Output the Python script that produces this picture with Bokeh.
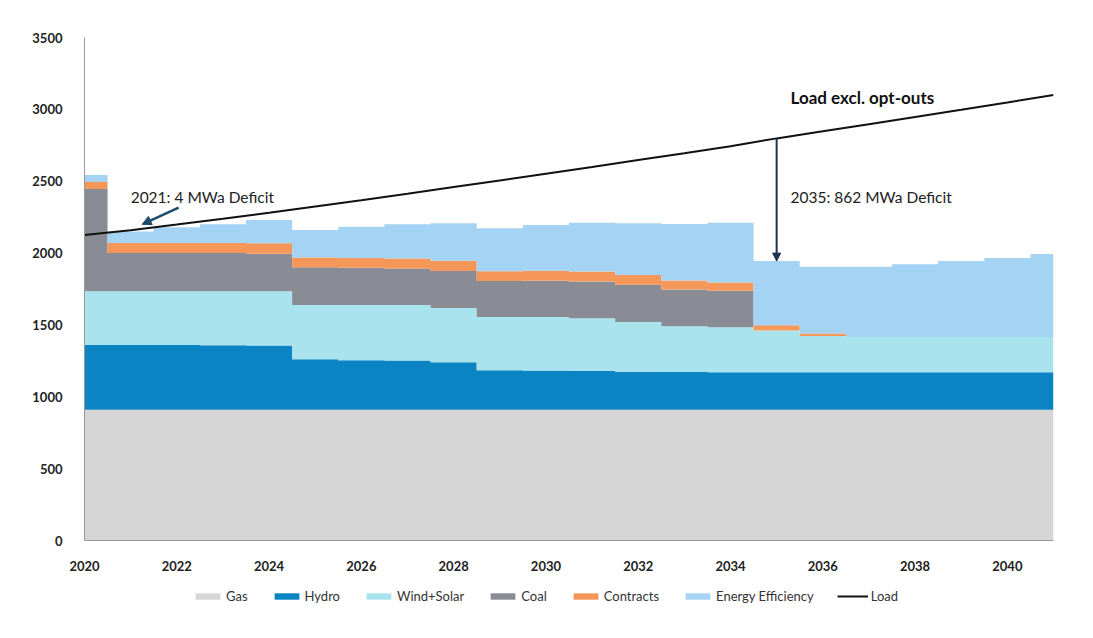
import numpy as np
from bokeh.plotting import figure
from bokeh.layouts import column
from bokeh.models import Range1d, Legend, LegendItem, Arrow, NormalHead, Label, FixedTicker, ColumnDataSource
from bokeh.embed import file_html
from bokeh.resources import INLINE

years = list(range(2020, 2042))
gas = [910] * 22
hydro = [450, 450, 450, 448, 446, 351, 345, 342, 330, 275, 273, 270, 265, 262, 260, 260, 260, 260, 260, 260, 260, 260]
wind_solar = [375, 375, 375, 377, 379, 377, 383, 386, 377, 370, 372, 367, 345, 319, 313, 292, 253, 246, 246, 246, 246, 246]
coal = [711, 265, 265, 265, 261, 264, 260, 254, 259, 250, 252, 255, 259, 256, 254, 0, 0, 0, 0, 0, 0, 0]
contracts = [49, 70, 70, 70, 72, 68, 67, 70, 70, 69, 70, 70, 68, 63, 59, 36, 18, 0, 0, 0, 0, 0]
energy_eff = [48, 80, 110, 130, 162, 190, 218, 238, 261, 298, 318, 339, 360, 392, 415, 446, 464, 489, 507, 528, 549, 577]
load = [2125, 2158, 2198, 2239, 2281, 2324, 2368, 2413, 2459, 2505, 2552, 2599, 2647, 2695, 2744, 2798,
        2847, 2897, 2947, 2997, 3048, 3100]

x_ticks = list(range(2020, 2041, 2))
y_ticks = list(range(0, 3501, 500))

names = ["Gas", "Hydro", "Wind+Solar", "Coal", "Contracts", "Energy Efficiency"]
series = [gas, hydro, wind_solar, coal, contracts, energy_eff]
colors = ["#d6d6d6", "#0b84c4", "#a9e3ee", "#898c94", "#f6975a", "#a4d3f3"]
load_color = "#111111"

FONT = "Lato"

p = figure(width=1093, height=575, x_range=Range1d(2020, 2041), y_range=Range1d(0, 3500),
           output_backend="svg", toolbar_location=None,
           min_border_left=84, min_border_right=40, min_border_top=37, min_border_bottom=35)
p.outline_line_color = None
p.grid.grid_line_color = None
p.background_fill_color = "white"
p.border_fill_color = "white"

cum = np.zeros(len(years))
for name, vals, col in zip(names, series, colors):
    lower = cum.copy()
    cum = cum + np.array(vals, dtype=float)
    src = ColumnDataSource(dict(x=years, y1=lower, y2=cum.copy()))
    p.varea_step(x="x", y1="y1", y2="y2", step_mode="center", source=src, fill_color=col)
tops = cum

p.line(years, load, line_color=load_color, line_width=2)

# axes
p.xaxis.ticker = FixedTicker(ticks=x_ticks)
p.yaxis.ticker = FixedTicker(ticks=y_ticks)
for ax in (p.xaxis, p.yaxis):
    ax.major_tick_line_color = None
    ax.minor_tick_line_color = None
    ax.major_label_text_font = FONT
    ax.major_label_text_font_style = "bold"
    ax.major_label_text_font_size = "13px"
    ax.major_label_text_color = "#222222"
    ax.axis_line_color = "#9a9a9a"
p.yaxis.major_label_standoff = 16
p.xaxis.major_label_standoff = 14

# annotations
p.add_layout(Label(x=2035.3, y=3083, text="Load excl. opt-outs", text_font=FONT, text_font_style="bold",
                   text_font_size="17px", text_baseline="middle", text_color="#111111"))
p.add_layout(Label(x=2035.3, y=2387, text="2035: 862 MWa Deficit", text_font=FONT,
                   text_font_size="15.5px", text_baseline="middle", text_color="#222222"))
p.add_layout(Label(x=2021.0, y=2387, text="2021: 4 MWa Deficit", text_font=FONT,
                   text_font_size="15.5px", text_baseline="middle", text_color="#222222"))
i35 = years.index(2035)
p.add_layout(Arrow(end=NormalHead(size=8, fill_color="#1d3552", line_color="#1d3552"),
                   x_start=years[i35], y_start=load[i35], x_end=years[i35], y_end=tops[i35],
                   line_color="#1d3552", line_width=2))
p.add_layout(Arrow(end=NormalHead(size=9, fill_color="#1b4a6b", line_color="#1b4a6b"),
                   x_start=2022.04, y_start=2317, x_end=2021.25, y_end=2200,
                   line_color="#1b4a6b", line_width=2.5))

# legend in its own strip below the chart (swatch glyphs lie outside the strip's visible range)
lg = figure(width=1093, height=63, output_backend="svg", toolbar_location=None,
            x_axis_type=None, y_axis_type=None, x_range=Range1d(0, 1), y_range=Range1d(0, 1),
            min_border=0)
lg.outline_line_color = None
lg.grid.grid_line_color = None
items = []
for name, col in zip(names, colors):
    r = lg.quad(left=[5], right=[6], top=[6], bottom=[5], fill_color=col, line_color=None)
    items.append(LegendItem(label=name, renderers=[r]))
rl = lg.line(x=[5, 6], y=[5, 5], line_color=load_color, line_width=2)
items.append(LegendItem(label="Load", renderers=[rl]))

legend = Legend(items=items, orientation="horizontal", location=(108, 34),
                label_text_font=FONT, label_text_font_size="13px", label_text_color="#333333",
                glyph_width=31, glyph_height=8, spacing=23, label_standoff=3, padding=6,
                border_line_color=None, background_fill_alpha=0)
lg.add_layout(legend, "center")

open("out.html", "w").write(file_html(column(p, lg), INLINE))
